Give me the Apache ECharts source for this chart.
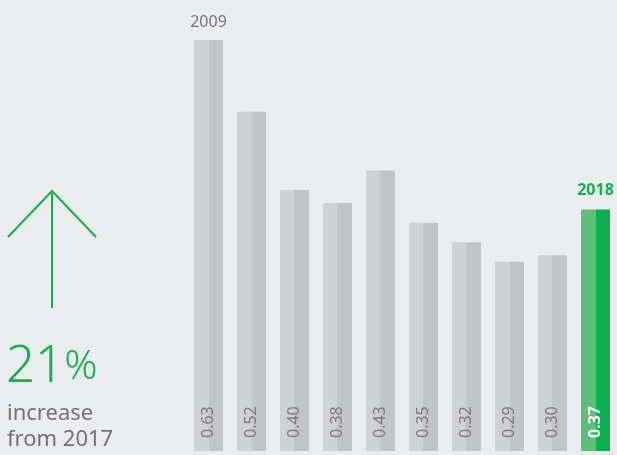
<!DOCTYPE html>
<html><head><meta charset="utf-8">
<script src="https://cdn.jsdelivr.net/npm/echarts@6/dist/echarts.min.js"></script>
<style>html,body{margin:0;padding:0;background:#ebecee;}#c{width:617px;height:455px;}</style>
</head><body><div id="c"></div>
<script>
const years = ['2009','2010','2011','2012','2013','2014','2015','2016','2017','2018'];
const values = [0.63, 0.52, 0.40, 0.38, 0.43, 0.35, 0.32, 0.29, 0.30, 0.37];
const topLabelYears = ['2009','2018'];

const G = echarts.graphic;
function twoTone(a, b) {
  return new G.LinearGradient(0, 0, 1, 0, [
    {offset: 0, color: a}, {offset: 0.5, color: a},
    {offset: 0.5, color: b}, {offset: 1, color: b}
  ]);
}
const grayFill = twoTone('#d0d1d3', '#c3c4c6');
const greenFill = twoTone('#5ec077', '#0bb14e');
const last = values.length - 1;

const chart = echarts.init(document.getElementById('c'));
chart.setOption({
  backgroundColor: '#ebecee',
  animation: false,
  grid: {left: 187, width: 432, top: 40, bottom: 4},
  xAxis: {type: 'category', data: years, show: false},
  yAxis: {type: 'value', min: 0, max: 0.63, show: false},
  series: [
    {
      type: 'bar', barWidth: 29,
      data: values.map((v, i) => ({value: v, itemStyle: {color: i === last ? greenFill : grayFill},
        label: i === last ? {color: '#ffffff', fontWeight: 'bold'} : {}})),
      label: {
        show: true, position: 'insideBottom', distance: 14, rotate: 90,
        align: 'left', verticalAlign: 'middle', offset: [-1, 0],
        fontFamily: 'Noto Sans', fontSize: 16, color: '#7b7b7d',
        formatter: p => p.value.toFixed(2)
      }
    },
    {
      type: 'bar', barWidth: 29, barGap: '-100%',
      itemStyle: {color: 'rgba(0,0,0,0)'},
      data: values.map((v, i) => ({value: v,
        label: years[i] === '2018' ? {color: '#12b24f', fontWeight: 'bold', distance: 11} : {}})),
      label: {
        show: true, position: 'top', distance: 10,
        fontFamily: 'Noto Sans', fontSize: 16, color: '#777779',
        formatter: p => topLabelYears.includes(p.name) ? p.name : ''
      },
      silent: true
    }
  ],
  graphic: [
    {type: 'polyline', shape: {points: [[8, 237], [52, 191], [96, 237]]},
      style: {stroke: '#12b24f', lineWidth: 2, fill: null}},
    {type: 'line', shape: {x1: 52, y1: 191, x2: 52, y2: 308},
      style: {stroke: '#12b24f', lineWidth: 2}},
    {type: 'text', left: 6, top: 342,
      style: {text: '{a|21}{b|%}', rich: {
        a: {fontFamily: 'Noto Sans', fontSize: 51, fontWeight: 300, fill: '#12b24f'},
        b: {fontFamily: 'Noto Sans', fontSize: 41, fontWeight: 300, fill: '#12b24f'}
      }}},
    {type: 'text', left: 7, top: 401,
      style: {text: 'increase\nfrom 2017', fontFamily: 'Noto Sans', fontSize: 22,
        lineHeight: 26, fill: '#737375'}}
  ]
});
</script></body></html>
